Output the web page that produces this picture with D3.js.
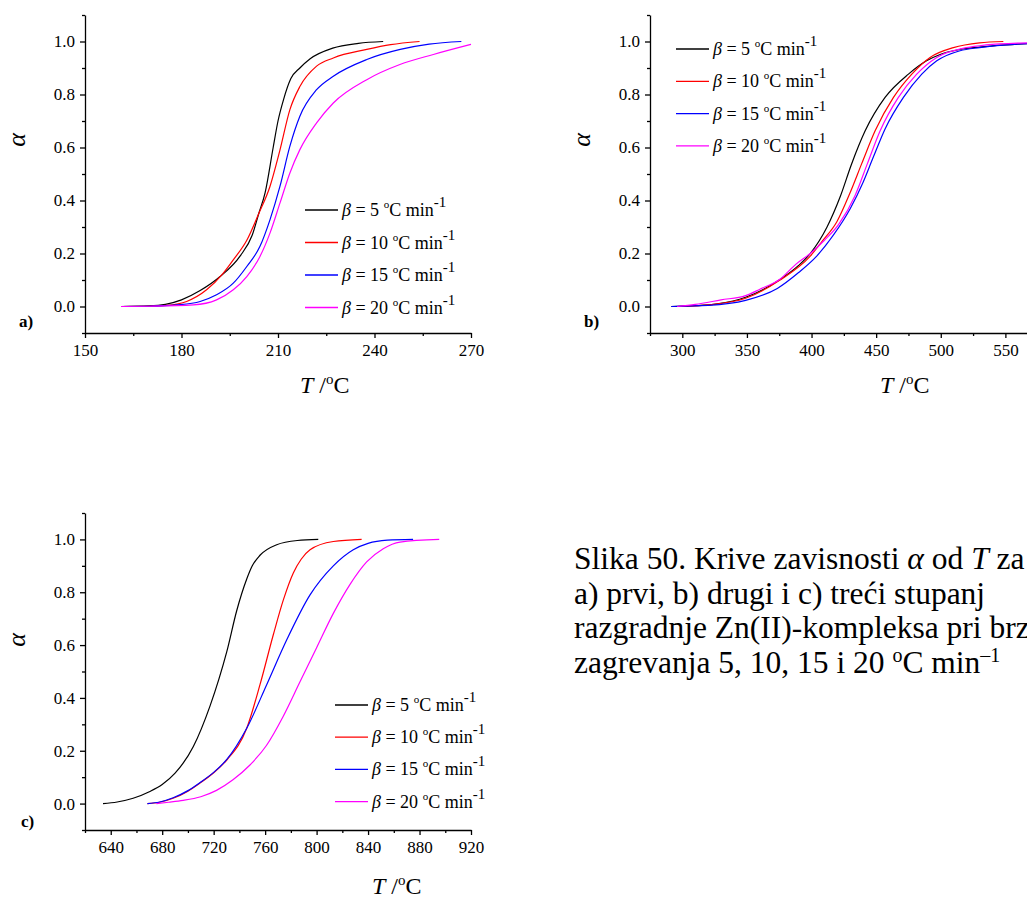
<!DOCTYPE html>
<html>
<head>
<meta charset="utf-8">
<script src="https://cdn.jsdelivr.net/npm/d3@7"></script>
<style>
  html, body { margin: 0; padding: 0; background: #fff; }
  svg { display: block; }
  text { font-family: "Liberation Serif", "Times New Roman", serif; fill: #000; }
</style>
</head>
<body>
<svg id="chart" width="1027" height="898"></svg>
<script>
// ---------- DATA ----------
const betaLabels = ["5", "10", "15", "20"];
const seriesColors = ["#000000", "#ff0000", "#0000ff", "#ff00ff"];
const yTicks = [0.0, 0.2, 0.4, 0.6, 0.8, 1.0];

// Panel a) first decomposition stage  [T (°C), alpha]
const aTicksX = [150, 180, 210, 240, 270];
const a_beta5 = [[161.2,0],[170,0.002],[175,0.008],[180,0.025],[185.8,0.06],[192,0.113],[198.2,0.19],[202,0.27],[204,0.35],[206,0.43],[208.5,0.60],[210,0.70],[211.7,0.78],[214,0.86],[216.8,0.90],[220,0.935],[227,0.975],[235,0.993],[242.7,1.0]];
const a_beta10 = [[161.2,0],[170,0.001],[175.4,0.004],[181.6,0.019],[187.8,0.063],[193,0.126],[196.1,0.176],[200.3,0.25],[204,0.35],[207.5,0.453],[210.6,0.59],[213.7,0.743],[216.8,0.83],[222,0.907],[227.2,0.938],[237.6,0.97],[245,0.988],[254,1.0]];
const a_beta15 = [[161.2,0],[170,0.001],[178.5,0.006],[185.8,0.019],[190.9,0.044],[196.1,0.088],[200.3,0.151],[204.4,0.227],[207.5,0.327],[210.6,0.453],[213.7,0.605],[216.8,0.718],[222,0.818],[227.2,0.869],[237.6,0.932],[248,0.97],[257,0.99],[267,1.0]];
const a_beta20 = [[161.2,0],[170,0.001],[183.7,0.006],[190.9,0.025],[196.1,0.063],[200.3,0.113],[204.4,0.189],[207.5,0.277],[210.6,0.39],[213.7,0.504],[216.8,0.592],[222,0.693],[227.2,0.768],[237.6,0.856],[247.9,0.913],[258.3,0.951],[270,0.989]];

// Panel b) second decomposition stage
const bTicksX = [300, 350, 400, 450, 500, 550];
const b_beta5 = [[291.5,0],[310,0.003],[327,0.01],[349,0.035],[375,0.1],[390,0.155],[399,0.2],[412,0.3],[422,0.412],[431,0.538],[441.5,0.663],[456.9,0.789],[475,0.877],[489,0.927],[500,0.952],[515,0.97],[530,0.979],[550,0.987],[567,0.992],[600,0.997]];
const b_beta10 = [[296,0],[320,0.006],[349,0.031],[375,0.098],[399,0.19],[408,0.245],[419.6,0.32],[429.9,0.43],[438.9,0.54],[449.2,0.663],[463.4,0.789],[477.6,0.877],[491.7,0.94],[509.8,0.977],[530,0.995],[548.4,1.0]];
const b_beta15 = [[291.5,0],[320,0.004],[349,0.023],[373.5,0.068],[390,0.128],[404,0.19],[417,0.27],[430,0.37],[440,0.47],[447.5,0.56],[456.9,0.67],[471.1,0.789],[485.3,0.877],[496.9,0.927],[514.9,0.965],[530,0.977],[567,0.992],[600,0.996]];
const b_beta20 = [[296,0],[310,0.008],[330,0.025],[349,0.041],[360,0.065],[375.8,0.104],[388,0.16],[399,0.2],[410,0.25],[421,0.31],[433.8,0.42],[443.3,0.54],[453.1,0.663],[467.2,0.789],[481.4,0.877],[496.9,0.94],[520,0.977],[535,0.987],[567,0.995],[600,0.998]];

// Panel c) third decomposition stage
const cTicksX = [640, 680, 720, 760, 800, 840, 880, 920];
const c_beta5 = [[634,0],[645,0.006],[657.4,0.02],[670,0.045],[680,0.072],[690,0.115],[704.2,0.216],[717.2,0.37],[724,0.47],[730.2,0.575],[737.9,0.73],[745.7,0.85],[750,0.9],[756,0.94],[769,0.98],[785,0.996],[801.3,1.0]];
const c_beta10 = [[668.5,0],[678,0.005],[688.5,0.02],[700,0.047],[709.2,0.077],[720,0.117],[730.2,0.165],[745.7,0.285],[756,0.45],[766.4,0.64],[774.1,0.77],[781.9,0.873],[788,0.925],[794.9,0.961],[813,0.992],[835,1.0]];
const c_beta15 = [[668.5,0],[678,0.006],[688.5,0.022],[700,0.049],[709.2,0.079],[720,0.118],[730.2,0.167],[745.7,0.285],[761.2,0.45],[776.8,0.62],[794.9,0.79],[813,0.9],[828.5,0.961],[840,0.985],[855,0.997],[875,1.0]];
const c_beta20 = [[675.5,0],[685,0.005],[696.3,0.012],[710,0.026],[722.2,0.05],[735,0.09],[748,0.145],[761,0.22],[774,0.33],[787,0.46],[800,0.59],[813,0.72],[826,0.83],[838.9,0.915],[851.8,0.965],[864.8,0.99],[895.3,1.0]];

const captionLines = [
  ["Slika 50. Krive zavisnosti ", {i:"α"}, " od ", {i:"T"}, " za"],
  ["a) prvi, b) drugi i c) treći stupanj"],
  ["razgradnje Zn(II)-kompleksa pri brzini"],
  ["zagrevanja 5, 10, 15 i 20 ", {sup:"o"}, "C min", {sup:"–1"}]
];

// ---------- DRAWING ----------
const svg = d3.select("#chart");

function drawPanel(p) {
  const g = svg.append("g");
  const x = d3.scaleLinear().domain(p.xDomain).range([p.left, p.left + p.xLen]);
  const y = d3.scaleLinear().domain([-0.1, 1.1]).range([p.bottom, p.top]);

  const xMinor = d3.range(p.xDomain[0], p.xDomain[1] + 0.001, p.xStep / 2)
    .filter(v => !p.xTicks.includes(v));
  const yMinor = [-0.1, 0.1, 0.3, 0.5, 0.7, 0.9, 1.1];

  const xAxis = d3.axisBottom(x).tickValues(p.xTicks).tickFormat(d3.format("d")).tickSize(5).tickSizeOuter(0).tickPadding(6);
  const yAxis = d3.axisLeft(y).tickValues(yTicks).tickFormat(d3.format(".1f")).tickSize(5).tickSizeOuter(0).tickPadding(5);

  g.append("g").attr("transform", `translate(0,${p.bottom})`).call(xAxis);
  g.append("g").attr("transform", `translate(${p.left},0)`).call(yAxis);
  g.append("g").attr("transform", `translate(0,${p.bottom})`)
    .call(d3.axisBottom(x).tickValues(xMinor).tickSize(3).tickFormat("").tickSizeOuter(0))
    .select(".domain").remove();
  g.append("g").attr("transform", `translate(${p.left},0)`)
    .call(d3.axisLeft(y).tickValues(yMinor).tickSize(3).tickFormat("").tickSizeOuter(0))
    .select(".domain").remove();

  g.selectAll("g").attr("font-family", "Liberation Serif");
  g.selectAll(".domain, .tick line").attr("stroke", "#000").attr("stroke-width", 1.3);
  g.selectAll(".tick text").attr("font-size", 17).attr("fill", "#000");

  // curves
  const line = d3.line().x(d => x(d[0])).y(d => y(d[1])).curve(d3.curveMonotoneX);
  p.series.forEach((s, i) => {
    g.append("path").datum(s).attr("d", line)
      .attr("fill", "none").attr("stroke", seriesColors[i]).attr("stroke-width", 1.2);
  });

  // legend
  betaLabels.forEach((b, i) => {
    const ly = p.legY + i * p.legDy;
    g.append("line").attr("x1", p.legX).attr("x2", p.legX + 33)
      .attr("y1", ly).attr("y2", ly).attr("stroke", seriesColors[i]).attr("stroke-width", 1.3);
    const t = g.append("text").attr("x", p.legX + 37).attr("y", ly + 6).attr("font-size", 18);
    t.append("tspan").attr("font-style", "italic").text("β");
    t.append("tspan").text(" = " + b + " ");
    t.append("tspan").attr("font-size", 11).attr("dy", -8).text("o");
    t.append("tspan").attr("dy", 8).text("C min");
    t.append("tspan").attr("font-size", 15).attr("dy", -9).text("-1");
  });

  // axis titles
  g.append("text").attr("transform", `translate(${p.yLabX},${p.yLabY}) rotate(-90)`)
    .attr("text-anchor", "middle").attr("font-size", 26).attr("font-style", "italic").text("α");
  const xt = g.append("text").attr("x", p.xLabX).attr("y", p.xLabY).attr("font-size", 24);
  xt.append("tspan").attr("font-style", "italic").text("T");
  xt.append("tspan").text(" /");
  xt.append("tspan").attr("font-size", 15).attr("dy", -9).text("o");
  xt.append("tspan").attr("dy", 9).text("C");

  g.append("text").attr("x", p.tagX).attr("y", p.tagY).attr("font-size", 17).attr("font-weight", "bold").text(p.tag);
}

drawPanel({
  tag: "a)", tagX: 19, tagY: 327,
  xDomain: [150, 270], xTicks: aTicksX, xStep: 30,
  left: 85, xLen: 386, top: 15, bottom: 333,
  series: [a_beta5, a_beta10, a_beta15, a_beta20],
  legX: 305, legY: 210, legDy: 32.5,
  yLabX: 25, yLabY: 140, xLabX: 300, xLabY: 393
});

drawPanel({
  tag: "b)", tagX: 584, tagY: 327,
  xDomain: [275, 600], xTicks: bTicksX, xStep: 50,
  left: 650, xLen: 420, top: 15, bottom: 333,
  series: [b_beta5, b_beta10, b_beta15, b_beta20],
  legX: 676, legY: 49, legDy: 32.3,
  yLabX: 590, yLabY: 140, xLabX: 880, xLabY: 393
});

drawPanel({
  tag: "c)", tagX: 21, tagY: 827,
  xDomain: [620, 920], xTicks: cTicksX, xStep: 40,
  left: 85, xLen: 386, top: 513, bottom: 830,
  series: [c_beta5, c_beta10, c_beta15, c_beta20],
  legX: 335, legY: 705, legDy: 32.2,
  yLabX: 25, yLabY: 640, xLabX: 372, xLabY: 894
});

// caption
const cap = svg.append("g");
captionLines.forEach((parts, i) => {
  const t = cap.append("text").attr("x", 574).attr("y", 569 + i * 34.6).attr("font-size", 31.5);
  let raised = false;
  parts.forEach(part => {
    if (typeof part === "string") {
      const ts = t.append("tspan").text(part);
      if (raised) { ts.attr("dy", 11); raised = false; }
    } else if (part.i) {
      const ts = t.append("tspan").attr("font-style", "italic").text(part.i);
      if (raised) { ts.attr("dy", 11); raised = false; }
    } else if (part.sup) {
      t.append("tspan").attr("font-size", 20).attr("dy", raised ? 0 : -11).text(part.sup);
      raised = true;
    }
  });
});
</script>
</body>
</html>
